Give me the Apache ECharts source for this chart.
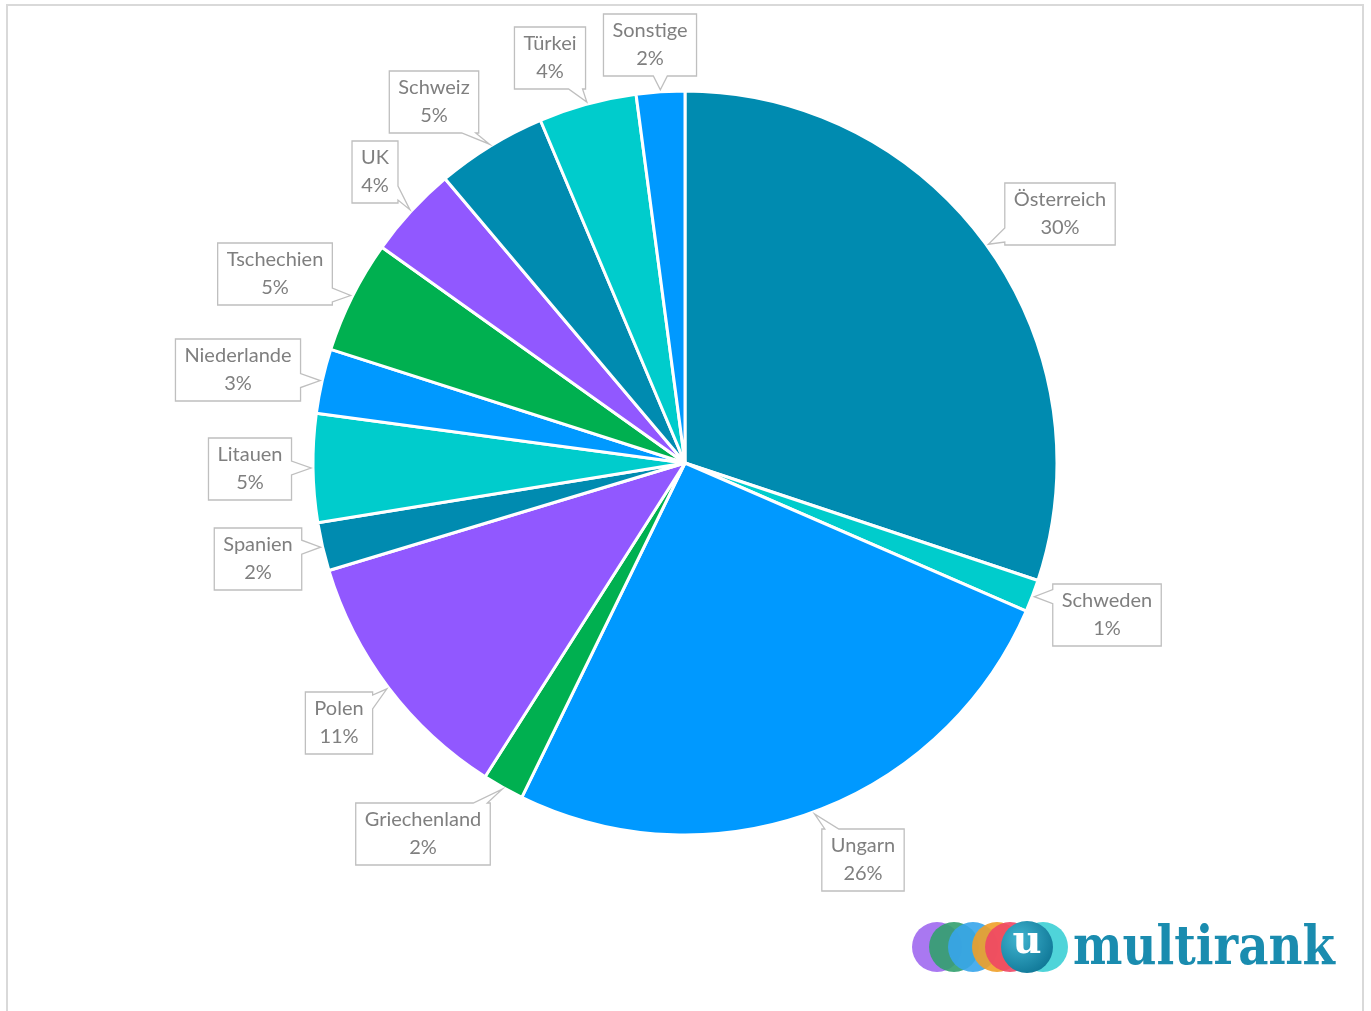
<!DOCTYPE html>
<html>
<head>
<meta charset="utf-8">
<script src="https://cdn.jsdelivr.net/npm/echarts@6/dist/echarts.min.js"></script>
<style>
html,body{margin:0;padding:0;background:#fff;}
#chart{width:1371px;height:1011px;}
</style>
</head>
<body>
<div id="chart"></div>
<script>
// ---- data ----
const countries = ['Österreich','Schweden','Ungarn','Griechenland','Polen','Spanien','Litauen','Niederlande','Tschechien','UK','Schweiz','Türkei','Sonstige'];
const shares = [30.1, 1.4, 25.7, 1.8, 11.3, 2.1, 4.7, 2.8, 4.9, 4.0, 4.8, 4.25, 2.1];
const sliceColors = ['#008BB0','#00CCCC','#0099FF','#00B050','#9158FF','#008BB0','#00CCCC','#0099FF','#00B050','#9158FF','#008BB0','#00CCCC','#0099FF'];

// ---- layout (callout box centres) ----
const CX = 685, CY = 463, R = 372;
const labelCenters = [
  [1060, 214], [1107, 615], [863, 860], [423, 834], [339, 723], [258, 559],
  [250, 469], [238, 370], [275, 274], [375, 172], [434, 102], [550, 58], [650, 45]
];
const LABEL_FONT = '20px Lato';

const total = shares.reduce((a, b) => a + b, 0);
const midAngles = [];
let acc = 0;
shares.forEach(v => { midAngles.push((acc + v / 2) / total * 2 * Math.PI); acc += v; });

const measureCtx = document.createElement('canvas').getContext('2d');
measureCtx.font = LABEL_FONT;

function clamp(v, a, b) { return Math.min(Math.max(v, a), b); }

function calloutPoints(x0, y0, x1, y1, ax, ay) {
  const dxo = ax < x0 ? x0 - ax : (ax > x1 ? ax - x1 : 0);
  const dyo = ay < y0 ? y0 - ay : (ay > y1 ? ay - y1 : 0);
  const hw = 7;
  if (dxo > dyo * 1.2) {
    const c = clamp(ay, y0 + hw + 3, y1 - hw - 3);
    if (ax < x0) return [[x0, y0], [x1, y0], [x1, y1], [x0, y1], [x0, c + hw], [ax, ay], [x0, c - hw]];
    return [[x0, y0], [x1, y0], [x1, c - hw], [ax, ay], [x1, c + hw], [x1, y1], [x0, y1]];
  } else {
    const c = clamp(ax, x0 + hw + 3, x1 - hw - 3);
    if (ay < y0) return [[x0, y0], [c - hw, y0], [ax, ay], [c + hw, y0], [x1, y0], [x1, y1], [x0, y1]];
    return [[x0, y0], [x1, y0], [x1, y1], [c + hw, y1], [ax, ay], [c - hw, y1], [x0, y1]];
  }
}

const chart = echarts.init(document.getElementById('chart'), null, {renderer: 'canvas'});

const graphics = [
  {type: 'rect', shape: {x: 7, y: 5, width: 1356, height: 1020}, style: {fill: 'none', stroke: '#d9d9d9', lineWidth: 2}, silent: true, z: -10}
];

// callouts
countries.forEach((name, i) => {
  const pct = Math.round(shares[i] / total * 100) + '%';
  const w = Math.max(measureCtx.measureText(name).width, measureCtx.measureText(pct).width) + 18;
  const h = 62;
  const c = labelCenters[i];
  const x0 = c[0] - w / 2, x1 = c[0] + w / 2, y0 = c[1] - h / 2, y1 = c[1] + h / 2;
  const a = midAngles[i];
  const ax = CX + (R + 2) * Math.sin(a), ay = CY - (R + 2) * Math.cos(a);
  graphics.push({type: 'polygon', shape: {points: calloutPoints(x0, y0, x1, y1, ax, ay)},
    style: {fill: '#ffffff', stroke: '#bfbfbf', lineWidth: 1.3}, z: 5, silent: true});
  graphics.push({type: 'text', x: c[0], y: c[1] - 14, style: {text: name, font: LABEL_FONT, fill: '#7f7f7f', align: 'center', verticalAlign: 'middle'}, z: 6, silent: true});
  graphics.push({type: 'text', x: c[0], y: c[1] + 14, style: {text: pct, font: LABEL_FONT, fill: '#7f7f7f', align: 'center', verticalAlign: 'middle'}, z: 6, silent: true});
});

// logo
const logoCircles = [
  {x: 937, c: 'rgba(160,105,240,0.9)'},
  {x: 954, c: 'rgba(50,160,110,0.9)'},
  {x: 973, c: 'rgba(55,165,235,0.9)'},
  {x: 997, c: 'rgba(240,160,40,0.9)'},
  {x: 1010, c: 'rgba(240,70,100,0.9)'},
  {x: 1043, c: 'rgba(70,210,215,0.95)'}
];
logoCircles.forEach(c => graphics.push({type: 'circle', shape: {cx: c.x, cy: 947, r: 25}, style: {fill: c.c}, z: 10, silent: true}));
graphics.push({type: 'circle', shape: {cx: 1027, cy: 947, r: 26}, style: {fill: new echarts.graphic.RadialGradient(0.35, 0.35, 0.8, [{offset: 0, color: '#3fb4d0'}, {offset: 1, color: '#0b7191'}])}, z: 11, silent: true});
graphics.push({type: 'text', x: 1027, y: 943, style: {text: 'u', font: 'bold 40px "DejaVu Serif"', fill: '#ffffff', align: 'center', verticalAlign: 'middle'}, z: 12, silent: true});
graphics.push({type: 'text', x: 1073, y: 922, scaleX: 0.85, style: {text: 'multirank', font: 'bold 55px "DejaVu Serif"', fill: '#1a8caf', align: 'left', verticalAlign: 'top'}, z: 12, silent: true});

chart.setOption({
  backgroundColor: '#ffffff',
  animation: false,
  graphic: graphics,
  series: [{
    type: 'pie',
    center: [CX, CY],
    radius: [0, R],
    startAngle: 90,
    clockwise: true,
    data: countries.map((n, i) => ({name: n, value: shares[i], itemStyle: {color: sliceColors[i]}})),
    itemStyle: {borderColor: '#ffffff', borderWidth: 3},
    label: {show: false},
    labelLine: {show: false},
    emphasis: {disabled: true}
  }]
});
</script>
</body>
</html>
